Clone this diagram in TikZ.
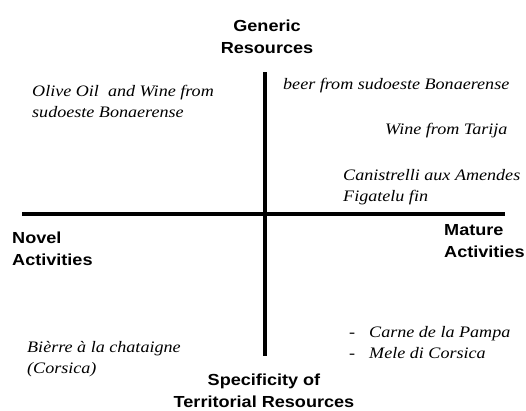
\documentclass[tikz,border=0pt]{standalone}
\usepackage{fontspec}
\newfontfamily\itemfont[FakeStretch=1.13]{Liberation Serif Italic}
\newfontfamily\axisfont[FakeStretch=1.13]{Liberation Sans Bold}
\newcommand\itemtop{\rule{0pt}{14pt}}
\newcommand\axistop{\rule{0pt}{15pt}}
\tikzset{
  itemtext/.style={font=\itemfont\fontsize{16}{21}\selectfont, inner sep=0pt, anchor=north west, align=left},
  axistext/.style={font=\axisfont\fontsize{16}{22}\selectfont, inner sep=0pt},
  axisline/.style={line width=3.5pt}
}
\begin{document}
\begin{tikzpicture}[x=1pt,y=-1pt]
\useasboundingbox (0,0) rectangle (526,410);
\coordinate (vt) at (265,72);
\coordinate (vb) at (265,356);
\coordinate (hl) at (22,214);
\coordinate (hr) at (505,214);
\draw[axisline] (vt) -- (vb);
\draw[axisline] (hl) -- (hr);
\node[axistext, anchor=north, align=center] (generic) at (267,16) {\axistop Generic\\Resources};
\node[axistext, anchor=north, align=center] (specific) at (264,370.5) {\axistop Specificity of\\Territorial Resources};
\node[axistext, anchor=north west, align=left] (novel) at (12,228) {\axistop Novel\\Activities};
\node[axistext, anchor=north west, align=left] (mature) at (444,220) {\axistop Mature\\Activities};
\node[itemtext] (olive) at (32,82) {\itemtop Olive Oil~ and Wine from\\sudoeste Bonaerense};
\node[itemtext] (beer) at (283,75) {\itemtop beer from sudoeste Bonaerense};
\node[itemtext] (tarija) at (385,120) {\itemtop Wine from Tarija};
\node[itemtext] (canis) at (343,166) {\itemtop Canistrelli aux Amendes\\Figatelu fin};
\node[itemtext] (carne) at (349,323) {\itemtop -\hspace{14pt}Carne de la Pampa\\-\hspace{14pt}Mele di Corsica};
\node[itemtext] (bierre) at (27,338) {\itemtop Bièrre à la chataigne\\(Corsica)};
\end{tikzpicture}
\end{document}
